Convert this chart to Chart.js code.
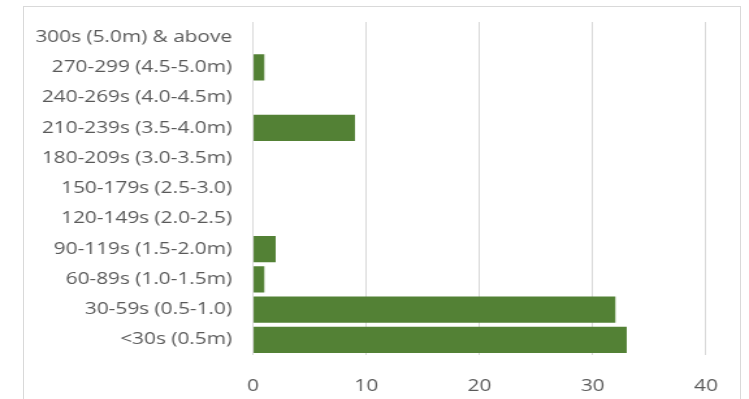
<!DOCTYPE html>
<html>
<head>
<meta charset="utf-8">
<script src="https://cdn.jsdelivr.net/npm/chart.js@4/dist/chart.umd.min.js"></script>
<style>
  html, body { margin: 0; padding: 0; background: #ffffff; }
  #wrap { position: relative; width: 749px; height: 399px; overflow: hidden; }
  #frame { position: absolute; left: 23px; top: 6px; width: 718px; height: 420px;
           border: 1px solid #d9d9d9; box-sizing: border-box; }
  canvas { position: absolute; left: 0; top: 0; }
</style>
</head>
<body>
<div id="wrap">
  <div id="frame"></div>
  <!-- the drawing surface is rendered narrow and shown wide, giving the broad lettering -->
  <canvas id="c" width="576" height="399" style="width:749px;height:399px;"></canvas>
</div>
<script>
// Duration buckets, listed top to bottom as they appear on the axis
const durationBuckets = [
  "300s (5.0m) & above",
  "270-299 (4.5-5.0m)",
  "240-269s (4.0-4.5m)",
  "210-239s (3.5-4.0m)",
  "180-209s (3.0-3.5m)",
  "150-179s (2.5-3.0)",
  "120-149s (2.0-2.5)",
  "90-119s (1.5-2.0m)",
  "60-89s (1.0-1.5m)",
  "30-59s (0.5-1.0)",
  "<30s (0.5m)"
];
// Count in each bucket
const bucketCounts = [0, 1, 0, 9, 0, 0, 0, 2, 1, 32, 33];
// Value axis ticks
const axisMin = 0;
const axisMax = 40;
const axisStep = 10;

// horizontal stretch between canvas units and screen pixels
const CANVAS_W = 576;
const SX = 749 / CANVAS_W;

const FONT = { family: "'Open Sans', 'Liberation Sans', sans-serif", size: 16 };
const TEXT = "#595959";

new Chart(document.getElementById("c"), {
  type: "bar",
  data: {
    labels: durationBuckets,
    datasets: [{
      data: bucketCounts,
      backgroundColor: "#538135",
      borderWidth: 0,
      categoryPercentage: 1.0,
      barPercentage: 0.87
    }]
  },
  options: {
    indexAxis: "y",
    responsive: false,
    animation: false,
    layout: { padding: { left: 0, top: 22, right: CANVAS_W - 706 / SX, bottom: 0 } },
    plugins: { legend: { display: false }, tooltip: { enabled: false } },
    scales: {
      x: {
        min: axisMin,
        max: axisMax,
        ticks: { stepSize: axisStep, color: TEXT, font: FONT, padding: 22 },
        grid: { color: "#d9d9d9", lineWidth: 1, drawTicks: false },
        border: { display: false },
        afterFit: s => { s.height = 44; }
      },
      y: {
        ticks: { color: TEXT, font: FONT, padding: 21 / SX, autoSkip: false },
        grid: { display: false, drawTicks: false },
        border: { display: false },
        afterFit: s => { s.width = 253 / SX; s.paddingTop = 0; s.paddingBottom = 0; }
      }
    }
  }
});
</script>
</body>
</html>
